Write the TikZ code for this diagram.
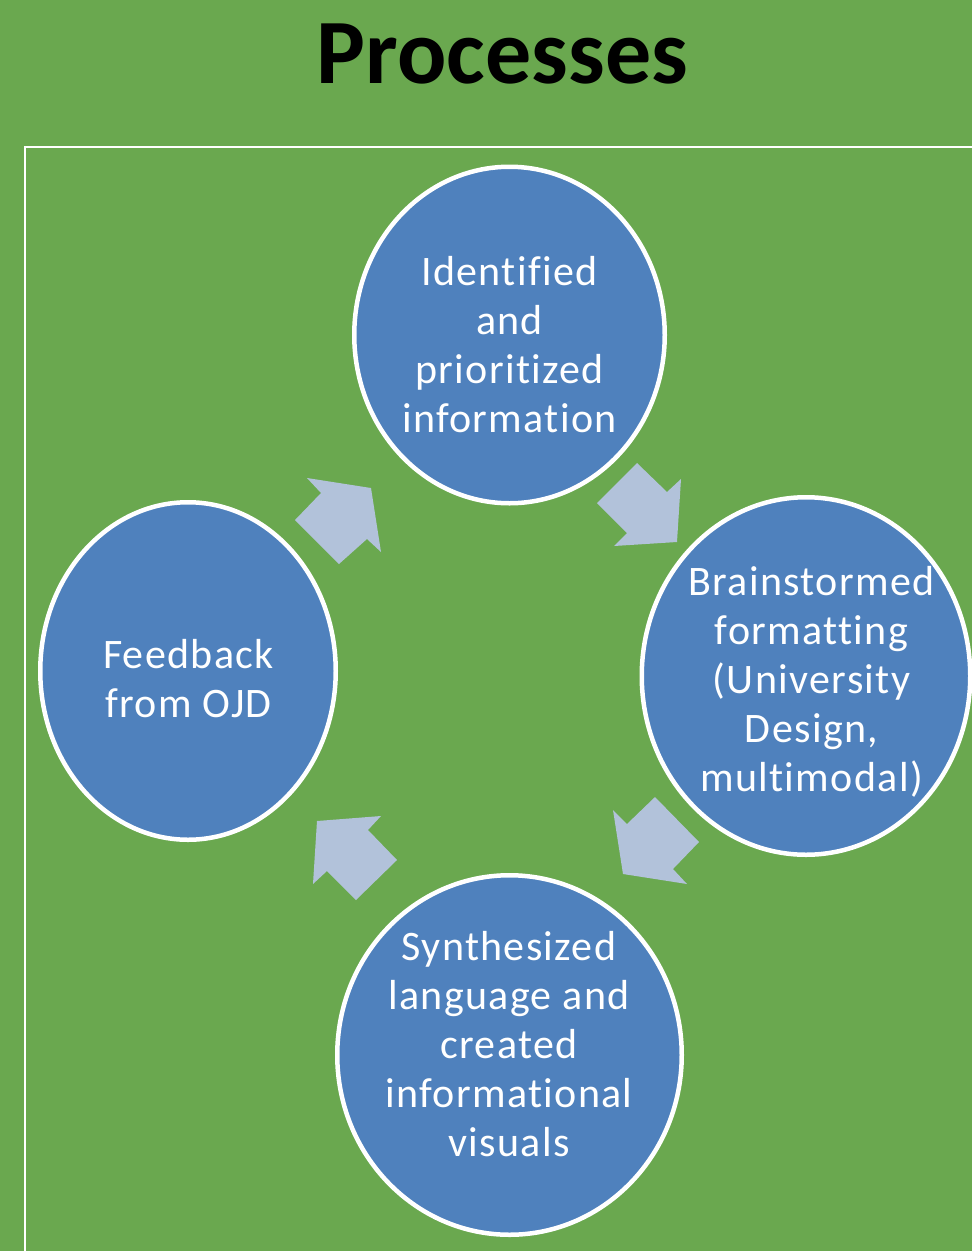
\documentclass[tikz,border=0pt]{standalone}
\usepackage{fontspec}
\setmainfont{Carlito}
\newfontfamily\circfont[LetterSpace=3.2,Ligatures={NoCommon,NoRare}]{Carlito}
\usetikzlibrary{shapes.geometric}
\definecolor{bggreen}{RGB}{106,168,79}
\definecolor{circblue}{RGB}{79,129,189}
\definecolor{arrowblue}{RGB}{178,194,218}
\begin{document}
\begin{tikzpicture}[x=1pt,y=-1pt,
  stage/.style={ellipse, fill=circblue, draw=white, line width=4.5pt, inner sep=0pt},
  stagetext/.style={text=white, align=center, inner sep=0pt, anchor=north,
    font=\circfont\fontsize{42}{49}\selectfont},
  blockarrow/.style={fill=arrowblue, draw=none},
  frameline/.style={draw=white, line width=2pt}]
\useasboundingbox (0,0) rectangle (972,1251);
\clip (0,0) rectangle (972,1251);
\fill[bggreen] (0,0) rectangle (972,1251);
\draw[frameline] (25,1270) -- (25,147) -- (990,147);

\node[anchor=base, font=\fontsize{92}{110}\selectfont\bfseries] (title) at (502.5,83) {Processes};

\node[stage, minimum width=310.5pt, minimum height=336.5pt] (top) at (509.5,335) {};
\node[stage, minimum width=328.5pt, minimum height=357.5pt] (right) at (806,676) {};
\node[stage, minimum width=295.5pt, minimum height=337.5pt] (left) at (188,671) {};
\node[stage, minimum width=344.5pt, minimum height=359.5pt] (bottom) at (509.5,1055) {};

\fill[blockarrow] (307,478) -- (371,488) -- (381,552) -- (367,539) -- (339,564) -- (295,520) -- (321,493) -- cycle;
\fill[blockarrow] (637,463) -- (667,492) -- (681,479) -- (677,542) -- (614,546) -- (627,533) -- (597,503) -- cycle;
\fill[blockarrow] (613,810) -- (627,824) -- (655,797) -- (699,842) -- (673,869) -- (687,884) -- (623,874) -- cycle;
\fill[blockarrow] (317,821) -- (381,816) -- (368,830) -- (397,860) -- (356,900) -- (327,871) -- (313,884) -- cycle;

\node[stagetext] (toptext) at (509.5,251) {\rule{0pt}{34pt}Identified\\and\\prioritized\\information};
\node[stagetext] (righttext) at (811.5,561) {\rule{0pt}{34pt}Brainstormed\\formatting\\(University\\Design,\\multimodal)};
\node[stagetext] (lefttext) at (188.5,634) {\rule{0pt}{34pt}Feedback\\from OJD};
\node[stagetext] (bottomtext) at (509,926) {\rule{0pt}{34pt}Synthesized\\language and\\created\\informational\\visuals};
\end{tikzpicture}
\end{document}
